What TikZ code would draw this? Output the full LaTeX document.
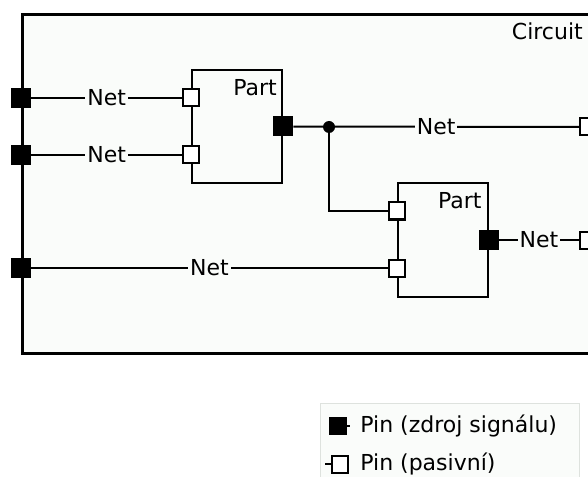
\documentclass[tikz,border=0pt]{standalone}
\usepackage{fontspec}
\setmainfont{DejaVu Sans}
\usetikzlibrary{positioning}
\definecolor{boardbg}{RGB}{250,252,250}
\definecolor{legendgray}{RGB}{222,226,222}

\begin{document}
\begin{tikzpicture}[x=0.75pt,y=-0.75pt,
    every node/.style={font=\fontsize{16.5}{19}\selectfont},
    part/.style={draw,line width=1.5pt,fill=boardbg,minimum width=67.5pt,minimum height=84.75pt},
    srcpin/.style={fill=black,inner sep=0pt,minimum size=15pt},
    paspin/.style={draw,fill=white,line width=1.5pt,inner sep=0pt,minimum width=12pt,minimum height=12.75pt},
    netlabel/.style={fill=boardbg,inner xsep=1.5pt,inner ysep=0pt},
    wire/.style={line width=1.5pt},
    junct/.style={circle,fill=black,inner sep=0pt,minimum size=9pt}
  ]
    \useasboundingbox (0,0) rectangle (588,477);
    \clip (0,0) rectangle (588,477);
    \fill[white] (0,0) rectangle (588,477);

    \draw[line width=2.25pt,fill=boardbg] (22,15) rectangle (620,353);
    \node[anchor=north east,inner sep=0pt] (circ) at (583,23) {Circuit};

    \node[part] (p1) at (237,126.5) {};
    \node[part] (p2) at (442.5,240) {};
    \node[inner sep=0pt,below left=7.5pt and 4.5pt of p1.north east] (p1t) {Part};
    \node[inner sep=0pt,below left=7.5pt and 5pt of p2.north east] (p2t) {Part};

    \node[srcpin] (s1) at (21,98) {};
    \node[srcpin] (s2) at (21,155) {};
    \node[srcpin] (s3) at (21,268) {};

    \node[paspin] (a1) at (p1.west |- s1) {};
    \node[paspin] (a2) at (p1.west |- s2) {};
    \node[srcpin] (o1) at (p1.east) {};
    \node[junct] (j1) at (329,127) {};
    \node[paspin] (b1) at (p2.west |- 0,211) {};
    \node[paspin] (b2) at (p2.west |- s3) {};
    \node[srcpin] (o2) at (p2.east) {};
    \node[paspin] (r1) at (588,127) {};
    \node[paspin] (r2) at (588,240) {};

    \draw[wire] (s1) -- node[netlabel] {Net} (a1);
    \draw[wire] (s2) -- node[netlabel] {Net} (a2);
    \draw[wire] (s3) -- node[netlabel] {Net} (b2);
    \draw[wire] (o1) -- node[netlabel] {Net} (r1);
    \draw[wire] (j1) |- (b1);
    \draw[wire] (o2) -- node[netlabel] {Net} (r2);

    % legend
    \draw[legendgray,line width=0.75pt,fill=boardbg] (320,403) rectangle (579,520);
    \node[srcpin,minimum size=13.5pt] (lg1) at (337.5,426) {};
    \coordinate (lg1t) at (350,426);
    \draw[wire] (lg1) -- (lg1t);
    \node[paspin] (lg2) at (339.5,464) {};
    \coordinate (lg2t) at (325,464);
    \draw[wire] (lg2) -- (lg2t);
    \node[anchor=west,inner sep=0pt,right=10pt of lg1] (lg1l) {Pin (zdroj signálu)};
    \node[anchor=west,inner sep=0pt] (lg2l) at (lg1l.west |- lg2) {Pin (pasivní)};
\end{tikzpicture}
\end{document}
